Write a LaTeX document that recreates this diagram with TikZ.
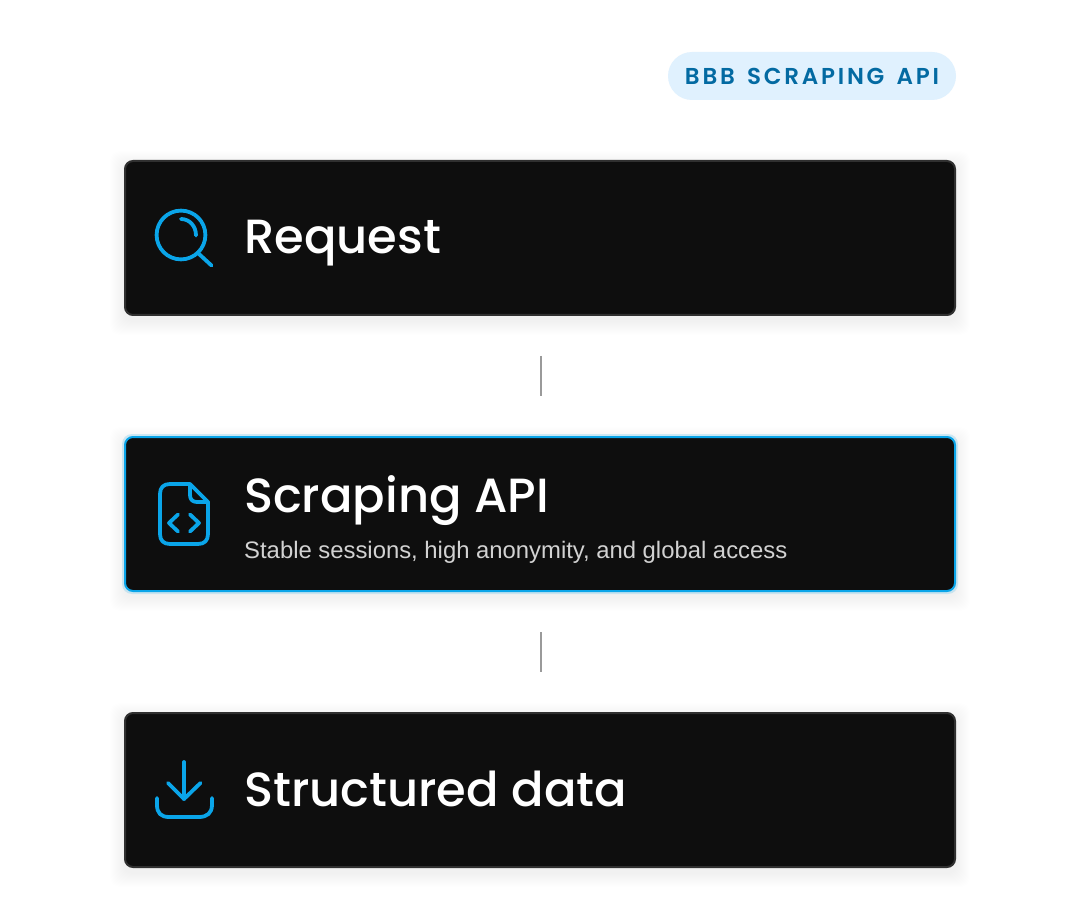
\documentclass[tikz,border=0pt]{standalone}
\usepackage{fontspec}
\setmainfont{Poppins}
\newfontfamily\titlefont{Poppins Medium}
\newfontfamily\pillfont[LetterSpace=12,WordSpace=1.5]{Poppins SemiBold}
\newfontfamily\subfont{Liberation Sans}
\definecolor{cardfill}{HTML}{0E0E0E}
\definecolor{cardedge}{HTML}{303030}
\definecolor{accent}{HTML}{0AA5E9}
\definecolor{pillfill}{HTML}{E0F1FE}
\definecolor{pillink}{HTML}{036AA2}
\definecolor{subink}{HTML}{D2D2D2}
\definecolor{linkgray}{HTML}{9A9A9A}
\tikzset{
  x=1pt,y=-1pt,
  card/.style={draw=cardedge,fill=cardfill,line width=2pt,rounded corners=8pt,minimum width=830pt,minimum height=154pt,outer sep=1pt,inner sep=0pt},
  hotcard/.style={card,draw=accent},
  cardtitle/.style={anchor=base west,text=white,font=\titlefont\fontsize{48}{52}\selectfont,inner sep=0pt},
  cardsub/.style={anchor=base west,text=subink,font=\subfont\fontsize{23.85}{26}\selectfont,inner sep=0pt},
  pill/.style={fill=pillfill,rounded corners=24pt,minimum width=288pt,minimum height=48pt,inner sep=0pt,text=pillink,font=\pillfont\fontsize{23}{26}\selectfont},
  link/.style={draw=linkgray,line width=1.5pt,shorten <=40pt,shorten >=40pt},
  icon/.style={draw=accent,line width=3.8pt,line cap=round,line join=round},
}
\newcommand{\softshadow}[6]{%
  \foreach \g in {1,2,...,14}{%
    \fill[#5,opacity=#6,rounded corners=10pt] (#1-\g,#2-\g+5) rectangle (#3+\g,#4+\g+5);
  }%
}
\begin{document}
\begin{tikzpicture}
\useasboundingbox (0,0) rectangle (1080,920);
\fill[white] (0,0) rectangle (1080,920);
\softshadow{124}{160}{956}{316}{black}{0.0025}
\softshadow{124}{436}{956}{592}{black}{0.0025}
\softshadow{124}{712}{956}{868}{black}{0.0025}
\fill[accent,opacity=0.18,rounded corners=10pt] (122,434) rectangle (958,594);
\node[pill] (badge) at (812,76) {BBB SCRAPING API};
\node[card] (request) at (540,238) {};
\node[hotcard] (api) at (540,514) {};
\node[card] (data) at (540,790) {};
\draw[link] ([xshift=1pt]request.south) -- ([xshift=1pt]api.north);
\draw[link] ([xshift=1pt]api.south) -- ([xshift=1pt]data.north);
\node[cardtitle] (t1) at (244,254) {Request};
\node[cardtitle] (t2) at (244,512) {Scraping API};
\node[cardsub] (s2) at (244,558) {Stable sessions, high anonymity, and global access};
\node[cardtitle] (t3) at (244,806) {Structured data};
% magnifier
\draw[icon] (181,235) circle[radius=24.4];
\draw[icon] (181,219) .. controls (189.5,219) and (196,226) .. (196,235.5);
\draw[icon] (199,254) -- (211.5,265.5);
% file with code marks
\draw[icon] (190,484) -- (170,484) .. controls (163.5,484) and (160,487.5) .. (160,494)
  -- (160,534) .. controls (160,540.5) and (163.5,544) .. (170,544)
  -- (198,544) .. controls (204.5,544) and (208,540.5) .. (208,534)
  -- (208,502) -- (190,484);
\draw[icon] (190,484) -- (190,495) .. controls (190,499.5) and (192.5,502) .. (197,502) -- (208,502);
\draw[icon] (178,514.5) -- (169,523) -- (178,531.5);
\draw[icon] (190,514.5) -- (199,523) -- (190,531.5);
% download
\draw[icon] (184,762) -- (184,799);
\draw[icon] (168,783) -- (184,799) -- (200.5,783);
\draw[icon] (157,798) -- (157,805) .. controls (157,813) and (161,817) .. (169,817)
  -- (199,817) .. controls (207,817) and (212,813) .. (212,805) -- (212,798);
\end{tikzpicture}
\end{document}
